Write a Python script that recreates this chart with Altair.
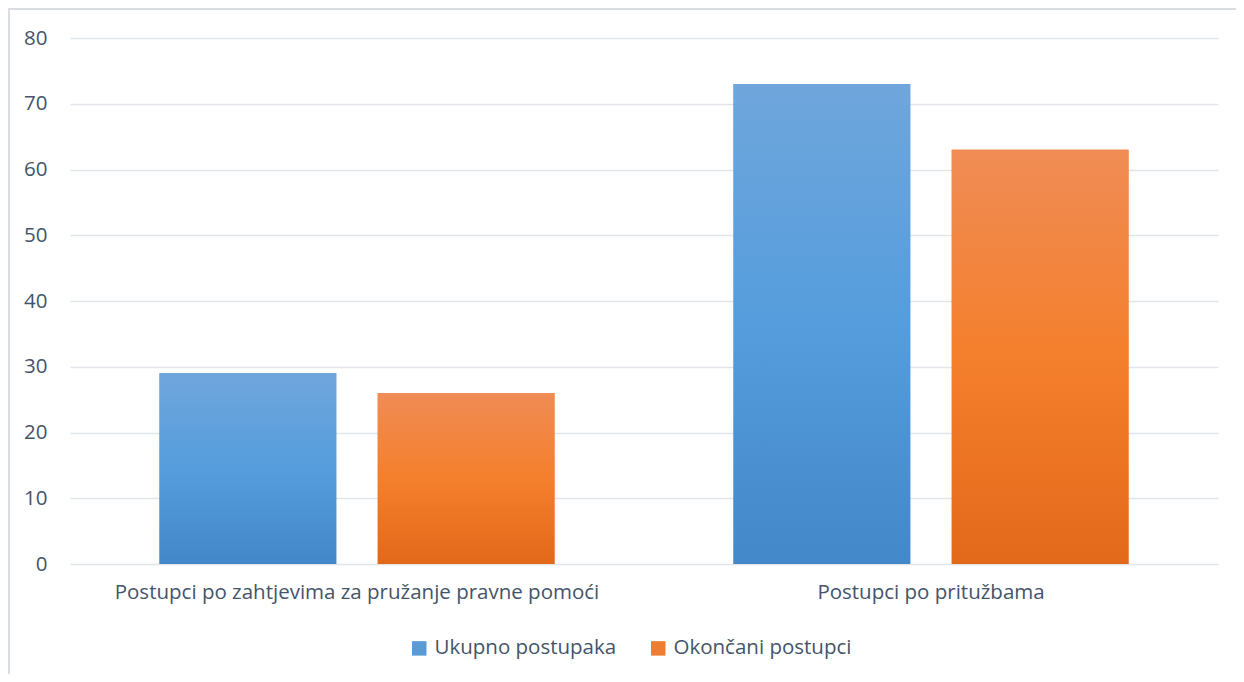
import altair as alt
import pandas as pd

categories = ["Postupci po zahtjevima za pružanje pravne pomoći", "Postupci po pritužbama"]
series = ["Ukupno postupaka", "Okončani postupci"]
ukupno = [29, 73]
okoncani = [26, 63]

rows = []
for c, u, o in zip(categories, ukupno, okoncani):
    rows.append({"cat": c, "series": series[0], "value": u})
    rows.append({"cat": c, "series": series[1], "value": o})
df = pd.DataFrame(rows)

FONT = "Open Sans"
TXT = "#44546A"
FS = 20.5

x_enc = alt.X("cat:N", sort=categories, title=None,
              scale=alt.Scale(paddingInner=0, paddingOuter=0),
              axis=alt.Axis(labelAngle=0, labelFontSize=FS, labelColor=TXT, labelFont=FONT,
                            domain=False, ticks=False, labelPadding=18, labelLimit=0))
xo_enc = alt.XOffset("series:N", sort=series,
                     scale=alt.Scale(paddingInner=0.19, paddingOuter=0.41))
y_enc = alt.Y("value:Q", title=None,
              scale=alt.Scale(domain=[0, 80], nice=False),
              axis=alt.Axis(values=[0, 10, 20, 30, 40, 50, 60, 70, 80], labelFontSize=FS,
                            labelColor=TXT, labelFont=FONT, domain=False, ticks=False,
                            labelPadding=23, gridColor="#E1E5EA", gridWidth=1.5))

base = alt.Chart(df).mark_bar().encode(
    x=x_enc, xOffset=xo_enc, y=y_enc,
    color=alt.Color("series:N", sort=series,
                    scale=alt.Scale(domain=series, range=["#5B9BD5", "#ED7D31"]),
                    legend=alt.Legend(title=None, orient="none", direction="horizontal",
                                      legendX=339, legendY=600, symbolType="square",
                                      symbolSize=210, symbolStrokeWidth=0,
                                      labelFontSize=FS, labelColor=TXT, labelFont=FONT,
                                      labelLimit=0, columnPadding=31, labelOffset=5)),
)

blue = alt.Chart(df).transform_filter(alt.datum.series == series[0]).mark_bar(
    fill=alt.Gradient(gradient="linear", x1=0, x2=0, y1=0, y2=1,
                      stops=[alt.GradientStop(color="#6FA6DC", offset=0),
                             alt.GradientStop(color="#559DDD", offset=0.5),
                             alt.GradientStop(color="#4388C9", offset=1)])
).encode(x=x_enc, xOffset=xo_enc, y=y_enc)

orange = alt.Chart(df).transform_filter(alt.datum.series == series[1]).mark_bar(
    fill=alt.Gradient(gradient="linear", x1=0, x2=0, y1=0, y2=1,
                      stops=[alt.GradientStop(color="#F08C55", offset=0),
                             alt.GradientStop(color="#F47F2C", offset=0.5),
                             alt.GradientStop(color="#E3691A", offset=1)])
).encode(x=x_enc, xOffset=xo_enc, y=y_enc)

# chart frame (light outline at the top and left edges)
frame_top = alt.Chart(df).mark_rule(color="#D9DDE2", strokeWidth=1.5).encode(
    x=alt.value(-62), x2=alt.value(1166), y=alt.value(-29))
frame_left = alt.Chart(df).mark_rule(color="#D9DDE2", strokeWidth=1.5).encode(
    x=alt.value(-61), y=alt.value(-29), y2=alt.value(650))

chart = alt.layer(base, blue, orange, frame_top, frame_left).properties(
    width=1148, height=526,
    autosize=alt.AutoSizeParams(type="none"),
    padding={"left": 62, "top": 30, "right": 18, "bottom": 110},
).configure_view(stroke=None)

chart.save("out.html", embed_options={"renderer": "svg", "actions": False})
